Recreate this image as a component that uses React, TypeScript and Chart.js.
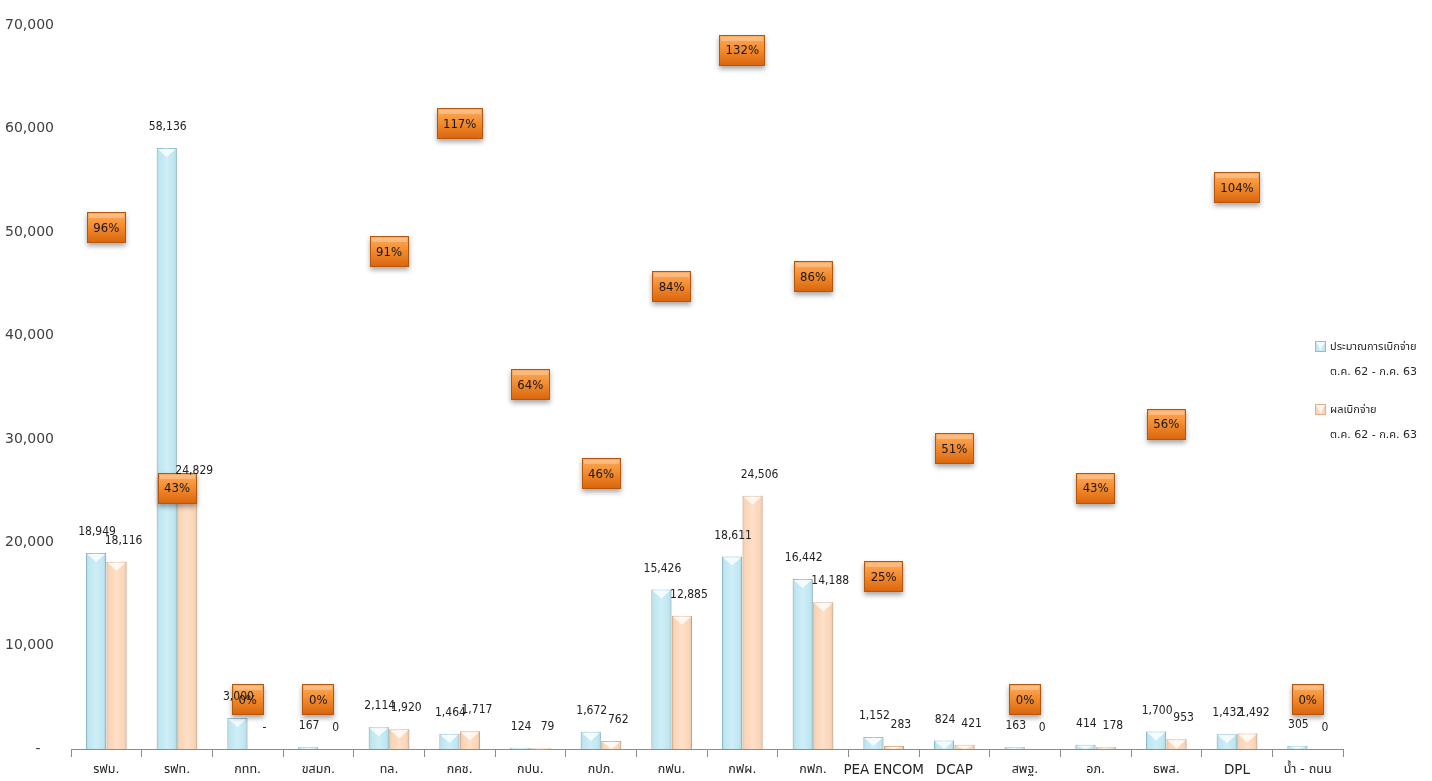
import React, { useEffect, useRef } from 'react';
import { Chart, registerables } from 'chart.js';

Chart.register(...registerables);

const categories = ['รฟม.', 'รฟท.', 'กทท.', 'ขสมก.', 'ทล.', 'กคช.', 'กปน.', 'กปภ.', 'กฟน.', 'กฟผ.', 'กฟภ.', 'PEA ENCOM', 'DCAP', 'สพฐ.', 'อภ.', 'ธพส.', 'DPL', 'น้ำ - ถนน'];
const budgetValues = [18949, 58136, 3000, 167, 2114, 1464, 124, 1672, 15426, 18611, 16442, 1152, 824, 163, 414, 1700, 1432, 305];
const actualValues: (number | null)[] = [18116, 24829, null, 0, 1920, 1717, 79, 762, 12885, 24506, 14188, 283, 421, 0, 178, 953, 1492, 0];
const percentValues = [96, 43, 0, 0, 91, 117, 64, 46, 84, 132, 86, 25, 51, 0, 43, 56, 104, 0];
const legendTitles = ['ประมาณการเบิกจ่าย', 'ผลเบิกจ่าย'];
const legendPeriod = 'ต.ค. 62 - ก.ค. 63';

const BLUE = '#C0E8F3';
const BLUE_EDGE = '#8FC2D0';
const PEACH = '#FCD6B8';
const PEACH_EDGE = '#E2B08C';
const THAI_FONT = '"DejaVu Sans", "Noto Sans Thai", "Noto Sans", Tahoma, sans-serif';

function bevelRect(ctx: CanvasRenderingContext2D, left: number, top: number, w: number, h: number) {
  if (h <= 0.5 || w <= 0) return;
  const g = ctx.createLinearGradient(left, 0, left + w, 0);
  g.addColorStop(0, 'rgba(0,0,0,0.10)');
  g.addColorStop(0.2, 'rgba(255,255,255,0.0)');
  g.addColorStop(0.5, 'rgba(255,255,255,0.25)');
  g.addColorStop(0.8, 'rgba(255,255,255,0.0)');
  g.addColorStop(1, 'rgba(0,0,0,0.14)');
  ctx.fillStyle = g;
  ctx.fillRect(left, top, w, h);
  const th = Math.min(9, h);
  ctx.beginPath();
  ctx.moveTo(left + 1, top + 1);
  ctx.lineTo(left + w - 1, top + 1);
  ctx.lineTo(left + w / 2, top + th);
  ctx.closePath();
  ctx.fillStyle = 'rgba(255,255,255,0.8)';
  ctx.fill();
}

const decorPlugin = {
  id: 'decor',
  afterDatasetsDraw(chart: any) {
    const ctx: CanvasRenderingContext2D = chart.ctx;
    const yScale = chart.scales.y;
    const basePx = yScale.getPixelForValue(0);
    ctx.save();
    // bevel shading
    [0, 1].forEach((di) => {
      const meta = chart.getDatasetMeta(di);
      meta.data.forEach((el: any, i: number) => {
        const v = chart.data.datasets[di].data[i];
        if (v == null || v === 0) return;
        const { x, y, base, width } = el.getProps(['x', 'y', 'base', 'width'], true);
        bevelRect(ctx, x - width / 2, y, width, base - y);
      });
    });
    ctx.textAlign = 'center';
    ctx.textBaseline = 'middle';
    // percentage boxes
    const pMeta = chart.getDatasetMeta(2);
    ctx.font = '13px "DejaVu Sans Condensed", "DejaVu Sans", sans-serif';
    pMeta.data.forEach((el: any, i: number) => {
      const txt = percentValues[i] + '%';
      const tw = ctx.measureText(txt).width;
      const w = Math.round(tw + 13);
      const h = 31;
      const left = Math.round(el.x - w / 2);
      const top = Math.round(el.y - h / 2);
      ctx.save();
      ctx.shadowColor = 'rgba(0,0,0,0.35)';
      ctx.shadowBlur = 5;
      ctx.shadowOffsetY = 3;
      const g = ctx.createLinearGradient(0, top, 0, top + h);
      g.addColorStop(0, '#FCAE63');
      g.addColorStop(0.45, '#F58D2F');
      g.addColorStop(1, '#D8640C');
      ctx.fillStyle = g;
      ctx.fillRect(left, top, w, h);
      ctx.restore();
      ctx.strokeStyle = '#B4560E';
      ctx.lineWidth = 1;
      ctx.strokeRect(left + 0.5, top + 0.5, w - 1, h - 1);
      ctx.fillStyle = 'rgba(255,255,255,0.25)';
      ctx.fillRect(left + 2, top + 2, w - 4, 4);
      ctx.fillStyle = '#151515';
      ctx.fillText(txt, el.x, el.y + 1);
    });
    // value labels
    ctx.font = '12px "DejaVu Sans Condensed", "DejaVu Sans", sans-serif';
    ctx.fillStyle = '#222';
    const blueMeta = chart.getDatasetMeta(0);
    [0, 1].forEach((di) => {
      const meta = chart.getDatasetMeta(di);
      meta.data.forEach((el: any, i: number) => {
        const v = chart.data.datasets[di].data[i];
        const bEl = blueMeta.data[i];
        let x = el.x;
        if (di === 1 && (v == null || !isFinite(x))) x = bEl.x + bEl.width;
        const top = v == null ? basePx : yScale.getPixelForValue(v);
        const txt = v == null ? '-' : Number(v).toLocaleString('en-US');
        const dx = di === 0 ? 1 : 7;
        ctx.fillText(txt, x + dx, top - 21);
      });
    });
    ctx.restore();
  },
  afterDraw(chart: any) {
    const ctx: CanvasRenderingContext2D = chart.ctx;
    ctx.save();
    const x0 = chart.chartArea.right - 28;
    const entries = [
      { fill: BLUE, edge: BLUE_EDGE, y: 347 },
      { fill: PEACH, edge: PEACH_EDGE, y: 410 },
    ];
    entries.forEach((e, i) => {
      ctx.fillStyle = e.fill;
      ctx.fillRect(x0, e.y - 6, 11, 11);
      bevelRect(ctx, x0, e.y - 6, 11, 11);
      ctx.strokeStyle = e.edge;
      ctx.strokeRect(x0 + 0.5, e.y - 5.5, 10, 10);
      ctx.fillStyle = '#262626';
      ctx.font = '11px ' + THAI_FONT;
      ctx.textAlign = 'left';
      ctx.textBaseline = 'middle';
      ctx.fillText(legendTitles[i], x0 + 15, e.y);
      ctx.fillText(legendPeriod, x0 + 15, e.y + 25);
    });
    ctx.restore();
  },
};

export default function App() {
  const ref = useRef<HTMLCanvasElement>(null);
  useEffect(() => {
    document.body.style.margin = '0';
    const chart = new Chart(ref.current!, {
      type: 'bar',
      data: {
        labels: categories,
        datasets: [
          {
            label: legendTitles[0],
            data: budgetValues,
            backgroundColor: BLUE,
            borderColor: BLUE_EDGE,
            borderWidth: 1,
            categoryPercentage: 0.58,
            barPercentage: 0.98,
            yAxisID: 'y',
            order: 2,
          },
          {
            label: legendTitles[1],
            data: actualValues,
            backgroundColor: PEACH,
            borderColor: PEACH_EDGE,
            borderWidth: 1,
            categoryPercentage: 0.58,
            barPercentage: 0.98,
            yAxisID: 'y',
            order: 2,
          },
          {
            type: 'line',
            label: '%',
            data: percentValues,
            showLine: false,
            pointRadius: 0,
            pointHoverRadius: 0,
            yAxisID: 'y2',
            order: 1,
          } as any,
        ],
      },
      options: {
        animation: false,
        responsive: true,
        maintainAspectRatio: false,
        layout: { padding: { left: 5, right: 89, top: 22, bottom: 1 } },
        plugins: { legend: { display: false }, tooltip: { enabled: false } },
        scales: {
          x: {
            grid: { display: true, drawOnChartArea: false, drawTicks: true, tickLength: 8, offset: true, color: '#8C8C8C' },
            border: { display: true, color: '#8C8C8C' },
            afterFit: (s: any) => {
              s.height = 31;
            },
            ticks: {
              color: '#222',
              padding: 5,
              font: (c: any) => {
                const lbl = categories[c.index] || '';
                const latin = /^[A-Za-z ]+$/.test(lbl);
                return { family: THAI_FONT, size: latin ? 13.5 : 12.5 };
              },
              maxRotation: 0,
              autoSkip: false,
            },
          },
          y: {
            min: 0,
            max: 70000,
            grid: { display: false, drawTicks: false },
            border: { display: false },
            afterFit: (s: any) => {
              s.width = 66;
            },
            ticks: {
              stepSize: 10000,
              padding: 17,
              color: '#404040',
              font: { family: '"DejaVu Sans", sans-serif', size: 14 },
              callback: (v: any) => (Number(v) === 0 ? '-   ' : Number(v).toLocaleString('en-US')),
            },
          },
          y2: {
            display: false,
            min: -10,
            max: 137,
          },
        },
      },
      plugins: [decorPlugin],
    });
    return () => chart.destroy();
  }, []);
  return (
    <div style={{ position: 'fixed', left: 0, top: 0, width: 1432, height: 781, background: '#fff' }}>
      <canvas ref={ref} />
    </div>
  );
}
